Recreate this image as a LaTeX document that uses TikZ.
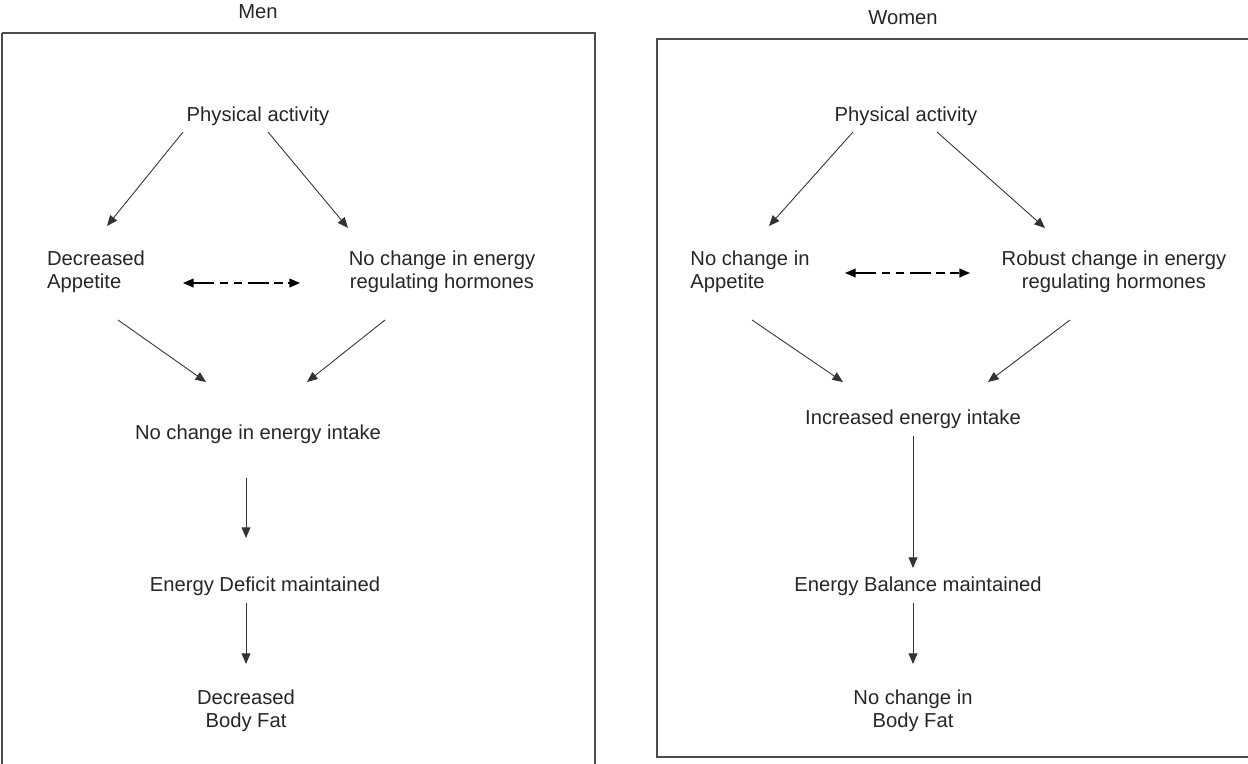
\documentclass[tikz,border=0pt]{standalone}
\usepackage{fontspec}
\setmainfont{Liberation Sans}
\usetikzlibrary{arrows.meta, positioning, calc}

\begin{document}
\begin{tikzpicture}[
  x=0.02cm, y=-0.02cm,
  lbl/.style={font=\fontsize{11.5}{13.2}\selectfont, align=center, inner sep=0pt, text=black!85},
  lbll/.style={lbl, align=left},
  arr/.style={-{Triangle[length=6pt,width=5pt]}, line width=0.5pt, black!80},
  darr/.style={{Triangle[length=6pt,width=5pt]}-{Triangle[length=6pt,width=5pt]}, line width=0.7pt,
    dash pattern=on 12pt off 3pt on 5pt off 3pt on 5pt off 3pt},
  panel/.style={draw=black!70, line width=1pt},
]
  \useasboundingbox (0,0) rectangle (1248,764);

  % Panels
  \draw[panel] (2,33) -- (595,33) -- (595,790) (2,790) -- (2,33);
  \draw[panel] (1260,39) -- (657,39) -- (657,757) -- (1260,757);

  % Men
  \node[lbl] (mTitle) at (258,12) {Men};
  \node[lbl] (mPA) at (258,116) {Physical activity};
  \node[lbll] (mApp) at (96,272) {Decreased\\Appetite};
  \node[lbl] (mHorm) at (442,272) {No change in energy\\regulating hormones};
  \node[lbl] (mIntake) at (258,434) {No change in energy intake};
  \node[lbl] (mDef) at (265,586) {Energy Deficit maintained};
  \node[lbl] (mFat) at (246,711) {Decreased\\Body Fat};

  \draw[arr] ($(mPA)+(-75,16)$) -- ($(mApp)+(11,-46)$);
  \draw[arr] ($(mPA)+(10,16)$) -- ($(mHorm)+(-94,-44)$);
  \draw[darr] ($(mApp)+(87,11)$) -- ($(mHorm)+(-142,11)$);
  \draw[arr] ($(mApp)+(22,48)$) -- ($(mIntake)+(-52,-52)$);
  \draw[arr] ($(mHorm)+(-57,48)$) -- ($(mIntake)+(49,-52)$);
  \draw[arr] ($(mIntake)+(-12,44)$) -- ($(mDef)+(-19,-48)$);
  \draw[arr] ($(mDef)+(-19,17)$) -- ($(mFat)+(0,-47)$);

  % Women
  \node[lbl] (wTitle) at (903,18) {Women};
  \node[lbl] (wPA) at (906,116) {Physical activity};
  \node[lbll] (wApp) at (750,272) {No change in\\Appetite};
  \node[lbl] (wHorm) at (1114,272) {Robust change in energy\\regulating hormones};
  \node[lbl] (wIntake) at (913,419) {Increased energy intake};
  \node[lbl] (wBal) at (918,586) {Energy Balance maintained};
  \node[lbl] (wFat) at (913,711) {No change in\\Body Fat};

  \draw[arr] ($(wPA)+(-53,16)$) -- ($(wApp)+(19,-46)$);
  \draw[arr] ($(wPA)+(31,16)$) -- ($(wHorm)+(-69,-44)$);
  \draw[darr] ($(wApp)+(95,1)$) -- ($(wHorm)+(-144,1)$);
  \draw[arr] ($(wApp)+(2,48)$) -- ($(wIntake)+(-70,-37)$);
  \draw[arr] ($(wHorm)+(-44,48)$) -- ($(wIntake)+(75,-37)$);
  \draw[arr] ($(wIntake)+(0,17)$) -- ($(wBal)+(-5,-18)$);
  \draw[arr] ($(wBal)+(-5,17)$) -- ($(wFat)+(0,-47)$);
\end{tikzpicture}
\end{document}
